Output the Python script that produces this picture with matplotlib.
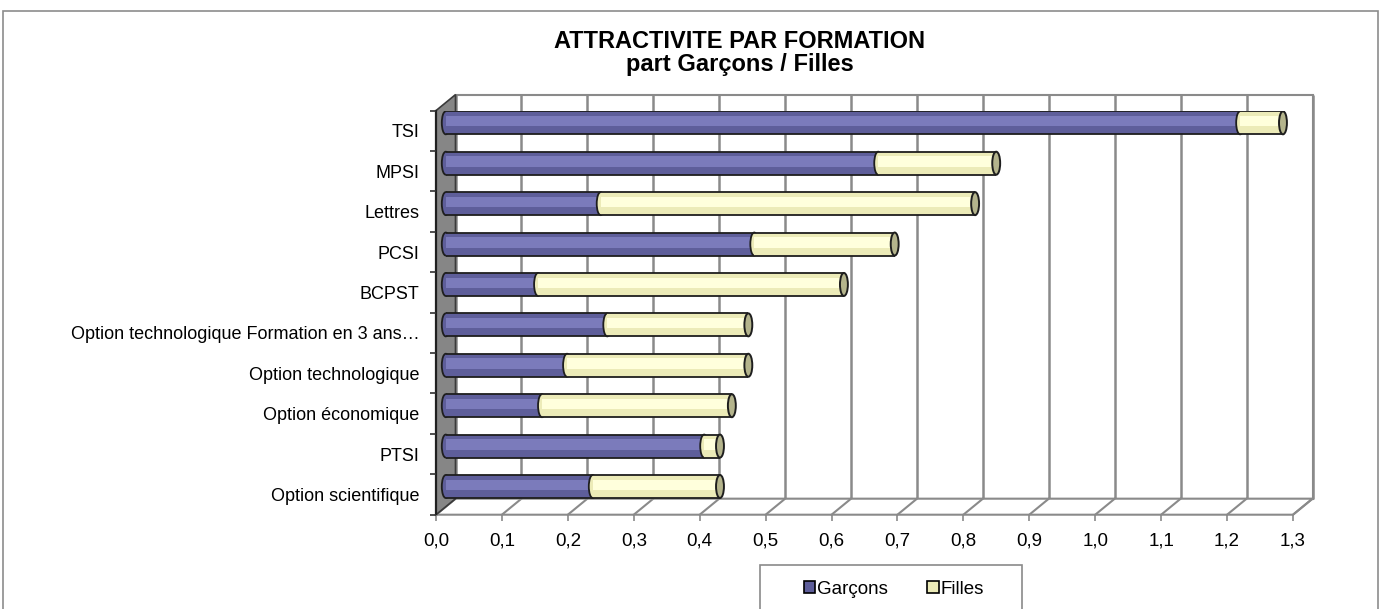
import numpy as np
import matplotlib
matplotlib.use("Agg")
import matplotlib.pyplot as plt
from matplotlib import transforms
from matplotlib.patches import Ellipse, Polygon, Rectangle, Patch

plt.rcParams['font.family'] = ['Liberation Sans', 'DejaVu Sans']

# bottom -> top, as in the Excel chart
categories = ["Option scientifique", "PTSI", "Option économique", "Option technologique",
              "Option technologique Formation en 3 ans…", "BCPST", "PCSI", "Lettres",
              "MPSI", "TSI"]
garcons = [0.223, 0.392, 0.146, 0.184, 0.245, 0.140, 0.468, 0.235, 0.656, 1.205]
filles = [0.193, 0.024, 0.288, 0.275, 0.214, 0.464, 0.213, 0.568, 0.179, 0.065]
xticks = [0.0, 0.1, 0.2, 0.3, 0.4, 0.5, 0.6, 0.7, 0.8, 0.9, 1.0, 1.1, 1.2, 1.3]
xticklabels = [f"{v:.1f}".replace(".", ",") for v in xticks]

W, H = 1381, 609
DX, DY = 19.5, 16.0          # depth of the 3d box, pixels
BAR_H = 0.57                 # bar thickness (category units)
CAP_W = 0.012                # end cap width (value units)

C_G, C_G_HI = "#5e5e9a", "#7b7bbb"
C_F, C_F_HI = "#ecebb8", "#ffffdc"
C_CAP = "#b4b48c"
C_EDGE = "#1e1e1e"
C_GRID = "#8a8a8a"

fig = plt.figure(figsize=(W / 100, H / 100), dpi=100)


def px(x0, y0, x1, y1):
    return [x0 / W, 1 - y1 / H, (x1 - x0) / W, (y1 - y0) / H]


ax = fig.add_axes(px(436, 110.6, 1293, 514.7))
ax.set_xlim(0, 1.3)
ax.set_ylim(-0.5, 9.5)
for s in ax.spines.values():
    s.set_visible(False)

back = ax.transData + transforms.ScaledTranslation(DX / 100, DY / 100, fig.dpi_scale_trans)
mid = ax.transData + transforms.ScaledTranslation(DX / 200, DY / 200, fig.dpi_scale_trans)

# depth offset in data units (for polygons mixing front and back planes)
ddx = DX * 1.3 / ax.bbox.width
ddy = DY * 10 / ax.bbox.height

# --- box: back wall, floor, left wall --------------------------------
ax.add_patch(Rectangle((0, -0.5), 1.3, 10, transform=back, facecolor="white",
                       edgecolor=C_GRID, lw=1.5, zorder=0.5, clip_on=False))
ax.vlines(xticks, -0.5, 9.5, transform=back, color=C_GRID, lw=1.8, zorder=0.6,
          clip_on=False)
ax.add_patch(Polygon([(0, -0.5), (1.3, -0.5), (1.3 + ddx, -0.5 + ddy), (ddx, -0.5 + ddy)],
                     closed=True, facecolor="white", edgecolor=C_GRID, lw=1.5,
                     zorder=0.7, clip_on=False))
for v in xticks:
    ax.plot([v, v + ddx], [-0.5, -0.5 + ddy], color=C_GRID, lw=1.5, zorder=0.8,
            clip_on=False)
ax.add_patch(Polygon([(0, -0.5), (0, 9.5), (ddx, 9.5 + ddy), (ddx, -0.5 + ddy)],
                     closed=True, facecolor="#868686", edgecolor="#3a3a3a", lw=1.2,
                     zorder=0.9, clip_on=False))
ax.plot([0, 0], [-0.5, 9.5], color="#202020", lw=1.6, zorder=0.95, clip_on=False)

# --- cylinders ---------------------------------------------------------
y = np.arange(len(categories))
g = np.array(garcons)
f = np.array(filles)
tot = g + f

for i in range(len(categories)):
    ax.add_patch(Ellipse((0, y[i]), CAP_W, BAR_H, transform=mid, facecolor=C_G,
                         edgecolor=C_EDGE, lw=1.3, zorder=1.9))
ax.barh(y, g, height=BAR_H, color=C_G, lw=0, transform=mid, zorder=2.0)
ax.barh(y + 0.04, g, height=BAR_H * 0.45, color=C_G_HI, lw=0, transform=mid, zorder=2.05)
for i in range(len(categories)):
    ax.add_patch(Ellipse((g[i], y[i]), CAP_W, BAR_H, transform=mid, facecolor=C_F,
                         edgecolor=C_EDGE, lw=1.3, zorder=2.1))
ax.barh(y, f, left=g, height=BAR_H, color=C_F, lw=0, transform=mid, zorder=2.2)
ax.barh(y + 0.04, f, left=g, height=BAR_H * 0.45, color=C_F_HI, lw=0, transform=mid,
        zorder=2.25)
ax.hlines(y + BAR_H / 2, 0, tot, color=C_EDGE, lw=1.3, transform=mid, zorder=2.3)
ax.hlines(y - BAR_H / 2, 0, tot, color=C_EDGE, lw=1.3, transform=mid, zorder=2.3)
for i in range(len(categories)):
    ax.add_patch(Ellipse((tot[i], y[i]), CAP_W, BAR_H, transform=mid, facecolor=C_CAP,
                         edgecolor=C_EDGE, lw=1.4, zorder=2.4))

# --- ticks ---------------------------------------------------------------
ax.set_xticks(xticks)
ax.set_xticklabels(xticklabels, fontsize=13.5)
ax.tick_params(axis="x", length=4, color=C_GRID, width=1.2, pad=8.5)
ax.set_yticks(y)
ax.set_yticklabels(categories, fontsize=13)
ax.tick_params(axis="y", which="major", length=0, pad=12)
ax.set_yticks(np.arange(-0.5, 10, 1), minor=True)
ax.tick_params(axis="y", which="minor", length=4, color="#303030", width=1.2)

# --- title / legend / frame --------------------------------------------
fig.text(740 / W, 1 - 41 / H, "ATTRACTIVITE PAR FORMATION", ha="center", va="center",
         fontsize=17, fontweight="bold")
fig.text(740 / W, 1 - 64 / H, "part Garçons / Filles", ha="center", va="center",
         fontsize=17, fontweight="bold")

fig.add_artist(Rectangle((760 / W, -0.1), 262 / W, 1 - 565 / H + 0.1,
                         transform=fig.transFigure, fill=False, edgecolor=C_GRID, lw=1.2))
handles = [Patch(facecolor=C_G, edgecolor="black", lw=1.2),
           Patch(facecolor=C_F, edgecolor="black", lw=1.2)]
fig.legend(handles, ["Garçons", "Filles"], loc="center", bbox_to_anchor=(894 / W, 1 - 589 / H),
           ncol=2, frameon=False, fontsize=13.5, handlelength=0.6, handleheight=0.6,
           handletextpad=0.12, columnspacing=2.1)

fig.add_artist(Rectangle((3 / W, -0.1), 1375 / W, 1 - 11 / H + 0.1,
                         transform=fig.transFigure, fill=False, edgecolor="#8c8c8c", lw=1.2))

fig.savefig("out.png", dpi=100)
